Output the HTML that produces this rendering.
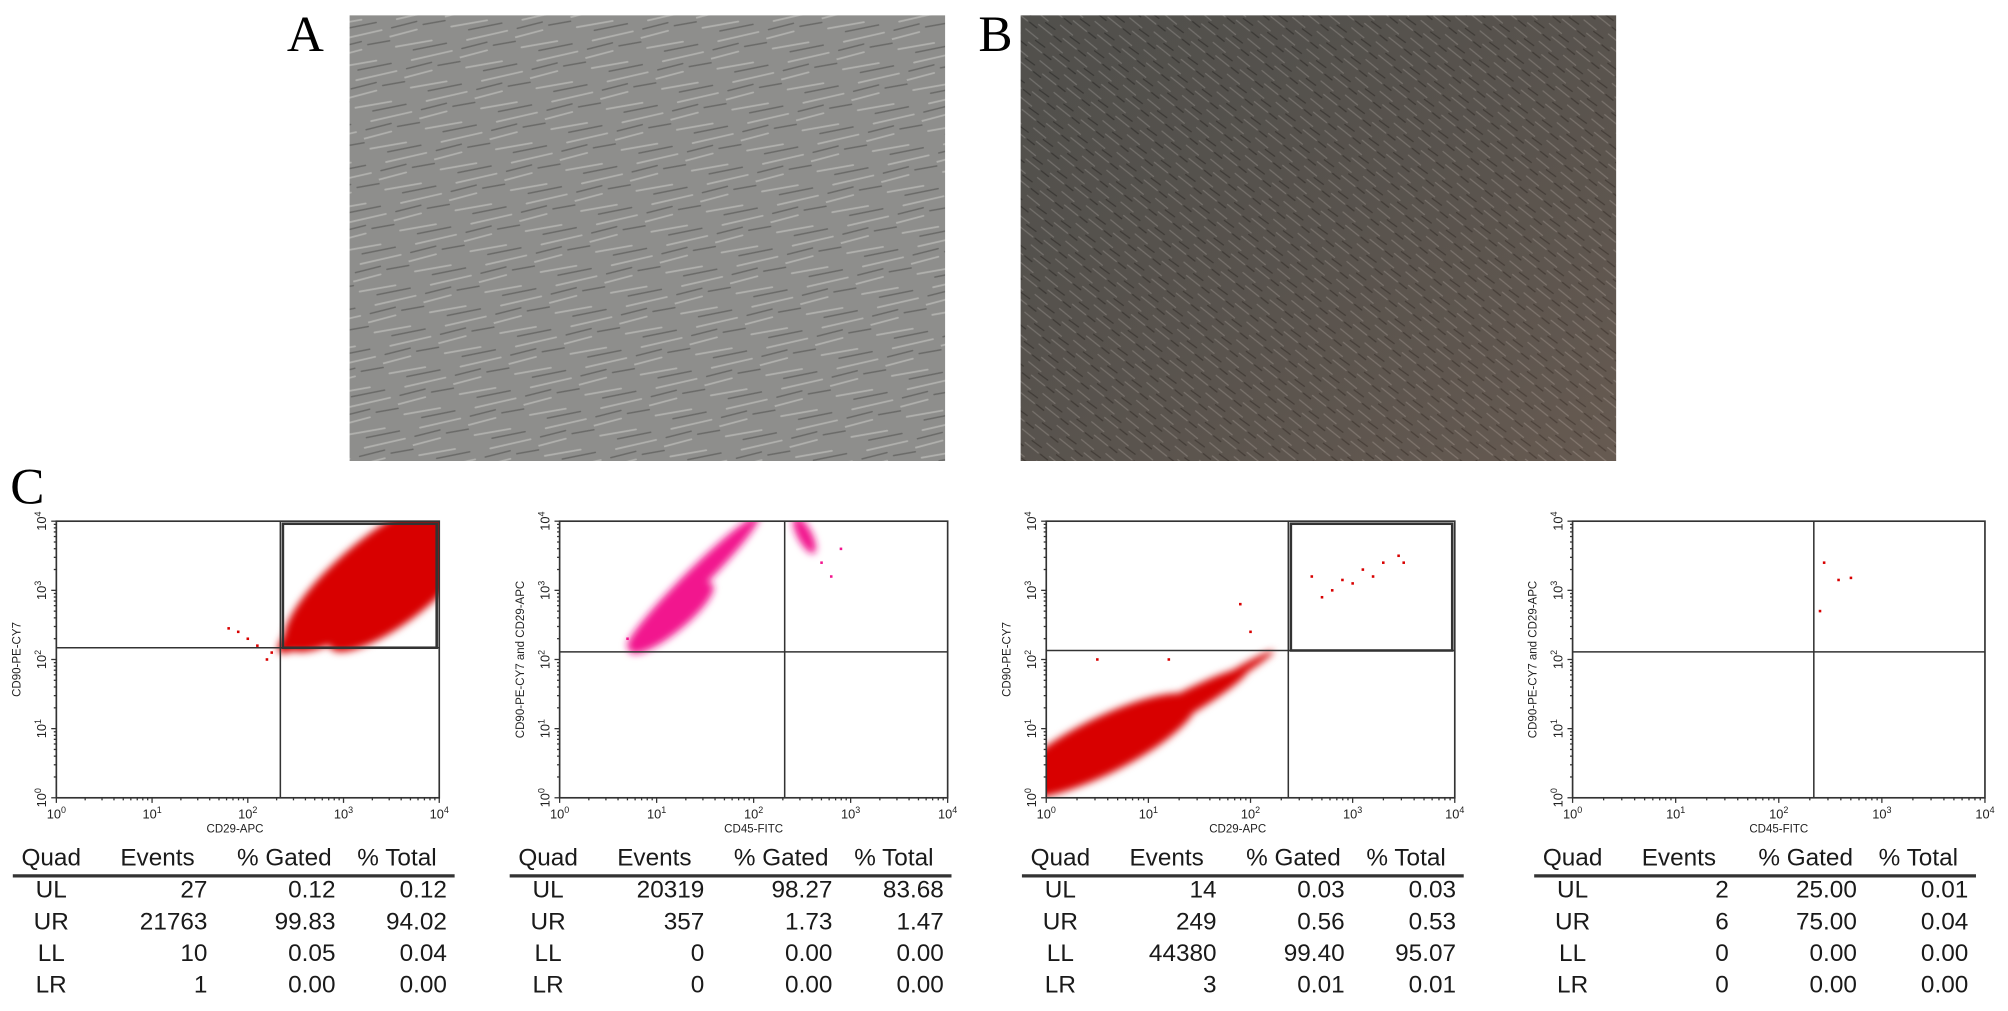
<!DOCTYPE html>
<html><head><meta charset="utf-8"><style>
html,body{margin:0;padding:0;background:#fff;}
svg{display:block;}
text{font-family:"Liberation Sans",sans-serif;}
text.serif{font-family:"Liberation Serif",serif;}
</style></head><body>
<svg id="fig" width="2008" height="1011" viewBox="0 0 1568 789.5" preserveAspectRatio="none" xmlns="http://www.w3.org/2000/svg">
<defs>
<pattern id="cellsA" width="46" height="34" patternUnits="userSpaceOnUse" patternTransform="rotate(-20)">
<rect width="46" height="34" fill="#8e8e8c"/>
<g stroke="#b0b0ad" stroke-width="1.4" stroke-linecap="round">
<line x1="2" y1="4" x2="30" y2="9"/><line x1="10" y1="18" x2="42" y2="22"/><line x1="0" y1="29" x2="22" y2="31"/></g>
<g stroke="#6a6a68" stroke-width="1.2" stroke-linecap="round">
<line x1="14" y1="11" x2="40" y2="15"/><line x1="4" y1="23" x2="24" y2="25"/><line x1="28" y1="29" x2="45" y2="32"/></g>
</pattern>
<pattern id="cellsB" width="22" height="16" patternUnits="userSpaceOnUse" patternTransform="rotate(30)">
<rect width="22" height="16" fill="#5a5955"/>
<g stroke="#7e7c78" stroke-width="1" stroke-linecap="round">
<line x1="1" y1="3" x2="13" y2="5"/><line x1="8" y1="11" x2="21" y2="13"/></g>
<g stroke="#3f3e3b" stroke-width="1" stroke-linecap="round">
<line x1="12" y1="7" x2="21" y2="8"/><line x1="1" y1="13" x2="8" y2="14"/></g>
</pattern>
<linearGradient id="warm" x1="0" y1="0" x2="1" y2="1"><stop offset="0" stop-color="#000" stop-opacity="0.1"/><stop offset="1" stop-color="#a06040" stop-opacity="0.18"/></linearGradient>
<filter id="soft" x="-20%" y="-20%" width="140%" height="140%"><feGaussianBlur stdDeviation="3"/></filter>
</defs>
<text class="serif" x="224" y="40" font-size="40">A</text>
<rect x="273" y="12" width="465" height="348" fill="url(#cellsA)"/>
<text class="serif" x="764" y="40" font-size="40">B</text>
<rect x="797" y="12" width="465" height="348" fill="url(#cellsB)"/>
<rect x="797" y="12" width="465" height="348" fill="url(#warm)"/>
<text class="serif" x="8" y="393" font-size="40">C</text>
<g id="plots"></g>
</svg>
<script>
// ---- data ----
const xTitles = ["CD29-APC","CD45-FITC","CD29-APC","CD45-FITC"];
const yTitles = ["CD90-PE-CY7","CD90-PE-CY7  and  CD29-APC","CD90-PE-CY7","CD90-PE-CY7  and  CD29-APC"];
const xThresh = [2.34, 2.32, 2.37, 2.34];
const yThresh = [2.17, 2.11, 2.13, 2.11];
const tickExps = [0,1,2,3,4];
const colors = ["#d80000","#f2158e","#d80000","#d80000"];
// density clouds: [x1,y1,x2,y2,widthFactor] in log10 units (major axis end points)
const bands1 = [[2.6,2.4,4.1,4.1,0.75],[3.0,2.3,4.1,3.4,0.5],[2.4,2.2,3.2,3.1,0.3]];
const bands2 = [[0.75,2.25,2.0,4.0,0.22],[0.8,2.2,1.5,3.0,0.3],[2.45,4.0,2.6,3.6,0.15]];
const bands3 = [[-0.2,0.2,1.3,1.3,0.55],[0.3,0.5,1.9,1.8,0.25],[1.2,1.2,2.2,2.1,0.1]];
const bands4 = [];
const pts1 = [[1.9,2.4],[2.0,2.3],[2.1,2.2],[2.2,2.0],[2.25,2.1],[1.8,2.45]];
const pts2 = [[2.7,3.4],[2.9,3.6],[2.8,3.2],[0.7,2.3]];
const pts3 = [[2.6,3.2],[2.8,3.0],[3.0,3.1],[3.2,3.2],[3.3,3.4],[3.45,3.5],[2.7,2.9],[3.1,3.3],[3.5,3.4],[2.9,3.15],[1.9,2.8],[2.0,2.4],[1.2,2.0],[0.5,2.0]];
const pts4 = [[2.44,3.4],[2.58,3.15],[2.7,3.18],[2.4,2.7]];
const bands = [bands1,bands2,bands3,bands4];
const pts = [pts1,pts2,pts3,pts4];
const tQuad = ["UL","UR","LL","LR"];
const ev = [["27","21763","10","1"],["20319","357","0","0"],["14","249","44380","3"],["2","6","0","0"]];
const gated = [["0.12","99.83","0.05","0.00"],["98.27","1.73","0.00","0.00"],["0.03","0.56","99.40","0.01"],["25.00","75.00","0.00","0.00"]];
const total = [["0.12","94.02","0.04","0.00"],["83.68","1.47","0.00","0.00"],["0.03","0.53","95.07","0.01"],["0.01","0.04","0.00","0.00"]];
const gateUR = [true,false,true,false];

// ---- layout ----
const boxes = [[44,343],[437,740],[817,1136],[1228,1550]];
const pTop=407, pBot=623;
const tblX = [10,398,798,1198];
const NS="http://www.w3.org/2000/svg";
const root=document.getElementById('plots');
function mk(t,a,p){const e=document.createElementNS(NS,t);for(const k in a)e.setAttribute(k,a[k]);(p||root).appendChild(e);return e;}

boxes.forEach((b,i)=>{
  const x0=b[0], x1=b[1];
  const X=v=>x0+(x1-x0)*v/4, Y=v=>pBot-(pBot-pTop)*v/4;
  const g=mk('g',{});
  
  
  const cid='clip'+i;
  const cp=mk('clipPath',{id:cid},g);mk('rect',{x:x0,y:pTop,width:x1-x0,height:pBot-pTop},cp);
  const dg=mk('g',{'clip-path':'url(#'+cid+')'},g);
  const sg=mk('g',{filter:'url(#soft)'},dg);
  const dpd=(x1-x0)/4;
  bands[i].forEach(d=>{
    const ax=X(d[0]), ay=Y(d[1]), bx=X(d[2]), by=Y(d[3]);
    const cx=(ax+bx)/2, cy=(ay+by)/2;
    const len=Math.hypot(bx-ax,by-ay);
    const ang=Math.atan2(by-ay,bx-ax)*180/Math.PI;
    const w=d[4]*dpd;
    const l=mk('ellipse',{cx:cx,cy:cy,rx:len/2+w/3,ry:w/2,fill:colors[i],transform:'rotate('+ang+' '+cx+' '+cy+')'},sg);
    
    
  });
  pts[i].forEach(p=>{
    const c=mk('rect',{x:X(p[0])-1,y:Y(p[1])-1,width:2,height:2,fill:colors[i]},dg);
    
    
  });
  const fr=mk('rect',{x:x0,y:pTop,width:x1-x0,height:pBot-pTop,fill:'none',stroke:'#333','stroke-width':1.3},g);
  
  
  const vl=mk('line',{x1:X(xThresh[i]),y1:pTop,x2:X(xThresh[i]),y2:pBot,stroke:'#333','stroke-width':1.2},g);
  
  
  const hl=mk('line',{x1:x0,y1:Y(yThresh[i]),x2:x1,y2:Y(yThresh[i]),stroke:'#333','stroke-width':1.2},g);
  
  
  if(gateUR[i]){
    const gr=mk('rect',{x:X(xThresh[i])+2,y:pTop+2,width:x1-X(xThresh[i])-4,height:Y(yThresh[i])-pTop-2,fill:'none',stroke:'#333','stroke-width':2},g);
    
    
  }
  tickExps.forEach(e=>{
    const nm = e<4 ? 9 : 1;
    for(let m=1;m<=nm;m++){
      const v=e+Math.log10(m);
      const len=m==1?4:2;
      mk('line',{x1:X(v),y1:pBot,x2:X(v),y2:pBot+len,stroke:'#333','stroke-width':1},g);
      mk('line',{x1:x0,y1:Y(v),x2:x0-len,y2:Y(v),stroke:'#333','stroke-width':1},g);
    }
    const tx=mk('text',{x:X(e),y:pBot+16,'font-size':10,'text-anchor':'middle',fill:'#222'},g);
    tx.textContent='10';
    const s=mk('tspan',{dy:-4,'font-size':7},tx);s.textContent=e;
    
    
    const ty=mk('text',{x:0,y:0,'font-size':10,'text-anchor':'middle',fill:'#222',transform:'translate('+(x0-8)+','+Y(e)+') rotate(-90)'},g);
    ty.textContent='10';
    const s2=mk('tspan',{dy:-4,'font-size':7},ty);s2.textContent=e;
    
    
  });
  const xt=mk('text',{x:(x0+x1)/2-(i%2?0:10),y:pBot+27,'font-size':9,'text-anchor':'middle',fill:'#222'},g);
  xt.textContent=xTitles[i];
  
  
  const yt=mk('text',{x:0,y:0,'font-size':9,'text-anchor':'middle',fill:'#222',transform:'translate('+(x0-28)+','+((pTop+pBot)/2)+') rotate(-90)'},g);
  yt.textContent=yTitles[i];
  
  

  const tx0=tblX[i];
  const tg=mk('g',{});
  
  
  const hdr=[["Quad",tx0+30],["Events",tx0+113],["% Gated",tx0+212],["% Total",tx0+300]];
  hdr.forEach(h=>{const t=mk('text',{x:h[1],y:676,'font-size':19,'text-anchor':'middle',fill:'#1a1a1a'},tg);t.textContent=h[0];
    
    });
  mk('line',{x1:tx0,y1:684,x2:tx0+345,y2:684,stroke:'#333','stroke-width':2.5},tg);
  tQuad.forEach((q,r)=>{
    const y=701+r*24.7;
    const cells=[[q,tx0+30,'middle'],[ev[i][r],tx0+152,'end'],[gated[i][r],tx0+252,'end'],[total[i][r],tx0+339,'end']];
    cells.forEach(c=>{const t=mk('text',{x:c[1],y:y,'font-size':19,'text-anchor':c[2],fill:'#1a1a1a'},tg);t.textContent=c[0];
      
      });
  });
});
</script>
</body></html>
